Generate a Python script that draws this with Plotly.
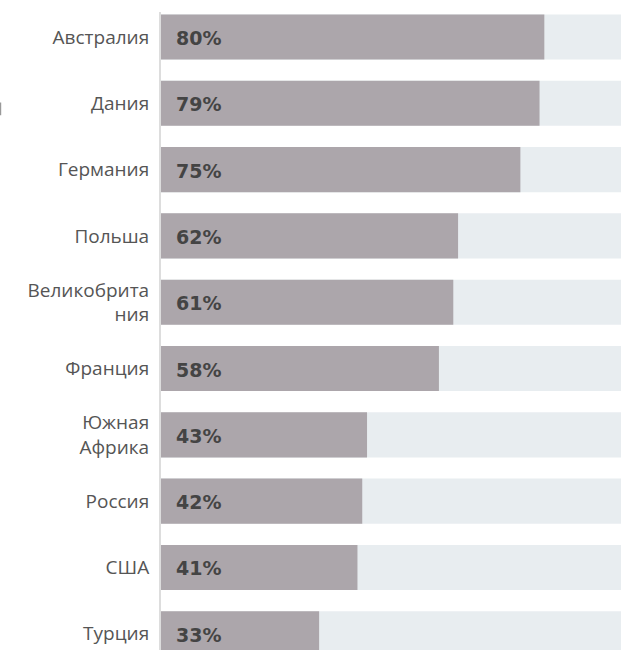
import plotly.graph_objects as go

countries = ['Австралия', 'Дания', 'Германия', 'Польша', 'Великобрита<br>ния',
             'Франция', 'Южная<br>Африка', 'Россия', 'США', 'Турция']
values = [80, 79, 75, 62, 61, 58, 43, 42, 41, 33]
full = [100] * len(countries)
labels = [f'{v}%' for v in values]

fig = go.Figure()
fig.add_trace(go.Bar(y=countries, x=full, orientation='h',
                     marker=dict(color='#e8edf0', line=dict(width=0)),
                     hoverinfo='skip', showlegend=False))
fig.add_trace(go.Bar(y=countries, x=values, orientation='h',
                     marker=dict(color='#aca6ab', line=dict(width=0)),
                     showlegend=False))

for c, t in zip(countries, labels):
    fig.add_annotation(x=0, y=c, text=f'<b>{t}</b>', showarrow=False,
                       xanchor='left', xshift=13, yshift=-1,
                       font=dict(family='DejaVu Sans', size=19, color='#444444'))

# small leftover mark at the left edge
fig.add_shape(type='line', xref='paper', yref='paper', x0=-0.349, x1=-0.349,
              y0=0.838, y1=0.858, line=dict(color='#999999', width=1.5))

fig.update_layout(
    width=621, height=650,
    margin=dict(l=161, r=0, t=12, b=0),
    barmode='overlay', bargap=0.32,
    plot_bgcolor='white', paper_bgcolor='white',
    font=dict(family='Open Sans', size=19, color='#555555'),
    xaxis=dict(range=[0, 96], showgrid=False, showticklabels=False,
               zeroline=False, fixedrange=True),
    yaxis=dict(categoryorder='array', categoryarray=countries,
               range=[9.245, -0.377], showgrid=False, showline=True,
               linecolor='#dddddd', linewidth=2, ticks='', ticklabelstandoff=6,
               fixedrange=True),
)

fig.write_html('out.html', config={'displayModeBar': False},
               post_script="document.body.style.margin='0';")
